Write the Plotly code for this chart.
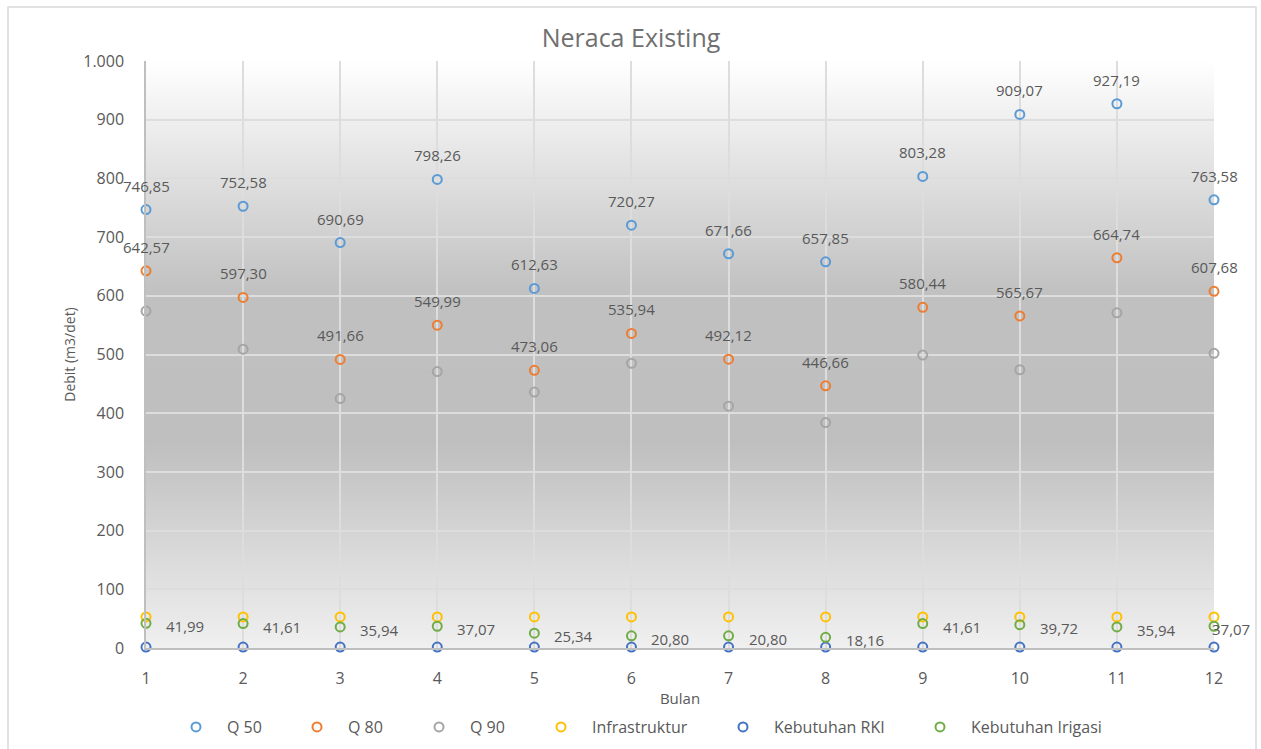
import base64
import struct
import zlib
import plotly.graph_objects as go

# ---------------- data ----------------
bulan = [1, 2, 3, 4, 5, 6, 7, 8, 9, 10, 11, 12]
q50 = [746.85, 752.58, 690.69, 798.26, 612.63, 720.27, 671.66, 657.85, 803.28, 909.07, 927.19, 763.58]
q80 = [642.57, 597.30, 491.66, 549.99, 473.06, 535.94, 492.12, 446.66, 580.44, 565.67, 664.74, 607.68]
q90 = [574, 509, 425, 471, 436, 485, 412, 384, 499, 474, 571, 502]
infrastruktur = [53, 53, 53, 53, 53, 53, 53, 53, 53, 53, 53, 53]
kebutuhan_rki = [1.5, 1.5, 1.5, 1.5, 1.5, 1.5, 1.5, 1.5, 1.5, 1.5, 1.5, 1.5]
kebutuhan_irigasi = [41.99, 41.61, 35.94, 37.07, 25.34, 20.80, 20.80, 18.16, 41.61, 39.72, 35.94, 37.07]

series_names = ["Q 50", "Q 80", "Q 90", "Infrastruktur", "Kebutuhan RKI", "Kebutuhan Irigasi"]
series_values = [q50, q80, q90, infrastruktur, kebutuhan_rki, kebutuhan_irigasi]
colors = ["#5B9BD5", "#ED7D31", "#A5A5A5", "#FFC000", "#4472C4", "#70AD47"]

# ---------------- layout geometry ----------------
W, H = 1261, 749
L, R, T, B = 146, 47, 61, 101
pw, ph = W - L - R, H - T - B

def px_x(p):
    return (p - L) / pw

def px_y(p):
    return (H - B - p) / ph

FONT = "Open Sans"
TXT = "#595959"

fig = go.Figure()
for i, (name, vals, col) in enumerate(zip(series_names, series_values, colors)):
    lg = "legend" if i == 0 else f"legend{i+1}"
    fig.add_trace(go.Scatter(
        x=bulan, y=vals, name=name, mode="markers",
        marker=dict(symbol="circle-open", size=9, color=col, line=dict(width=2, color=col)),
        cliponaxis=False, legend=lg, showlegend=True,
    ))

def fmt(v):
    return f"{v:,.2f}".replace(",", "X").replace(".", ",").replace("X", ".")

annotations = []
for vals in (q50, q80):
    for xb, v in zip(bulan, vals):
        annotations.append(dict(x=xb, y=v, text=fmt(v), showarrow=False, xref="x", yref="y",
                                yanchor="middle", xanchor="center", yshift=24,
                                font=dict(family=FONT, size=15, color=TXT)))
for j, (xb, v) in enumerate(zip(bulan, kebutuhan_irigasi)):
    last = j == len(bulan) - 1
    annotations.append(dict(x=xb, y=v, text=fmt(v), showarrow=False, xref="x", yref="y",
                            yanchor="middle", xanchor="left", xshift=-4 if last else 18, yshift=-3,
                            font=dict(family=FONT, size=15, color=TXT)))

# ---------------- gradient background (PNG built in memory) ----------------
def grad(v):
    stops = [(0, 240), (350, 191), (600, 192), (1000, 255)]
    for (a, ca), (b, cb) in zip(stops[:-1], stops[1:]):
        if a <= v <= b:
            return ca + (cb - ca) * (v - a) / (b - a)
    return 255

def make_png(rows, width=4):
    raw = b""
    for c in rows:
        raw += b"\x00" + bytes([c, c, c]) * width
    def chunk(tag, data):
        return struct.pack(">I", len(data)) + tag + data + struct.pack(">I", zlib.crc32(tag + data) & 0xFFFFFFFF)
    png = b"\x89PNG\r\n\x1a\n"
    png += chunk(b"IHDR", struct.pack(">IIBBBBB", width, len(rows), 8, 2, 0, 0, 0))
    png += chunk(b"IDAT", zlib.compress(raw, 9))
    png += chunk(b"IEND", b"")
    return "data:image/png;base64," + base64.b64encode(png).decode()

NROWS = 400
rows = [int(round(grad(1000 * (1 - (k + 0.5) / NROWS)))) for k in range(NROWS)]
bg_src = make_png(rows)

shapes = [dict(type="rect", xref="paper", yref="paper",
               x0=px_x(8), x1=px_x(1256), y0=px_y(752), y1=px_y(7),
               line=dict(color="#D9D9D9", width=1.5), fillcolor="rgba(0,0,0,0)", layer="below")]

layout = dict(
    width=W, height=H,
    margin=dict(l=L, r=R, t=T, b=B, pad=0, autoexpand=False),
    paper_bgcolor="white", plot_bgcolor="rgba(0,0,0,0)",
    separators=",.",
    showlegend=True,
    font=dict(family=FONT, color=TXT, size=14),
    title=dict(text="Neraca Existing", x=631 / W, xanchor="center", xref="container",
               y=1 - 38 / H, yanchor="middle", yref="container",
               font=dict(family=FONT, size=25, color="#707070")),
    xaxis=dict(range=[1, 12], dtick=1, tick0=1, showgrid=True, gridcolor="#DDDDDD", gridwidth=1.5,
               showline=True, linecolor="#BFBFBF", linewidth=1.5, zeroline=False, ticks="",
               ticklabelstandoff=15, tickfont=dict(family=FONT, size=16, color=TXT),
               title=dict(text="Bulan", font=dict(family=FONT, size=15, color=TXT), standoff=6)),
    yaxis=dict(range=[0, 1000], dtick=100, tickformat=",", showgrid=True, gridcolor="#DDDDDD",
               gridwidth=1.5, showline=True, linecolor="#BFBFBF", linewidth=1.5, zeroline=False,
               ticks="", ticklabelstandoff=17, tickfont=dict(family=FONT, size=16, color=TXT),
               title=dict(text="Debit (m3/det)", font=dict(family=FONT, size=14, color=TXT), standoff=4)),
    annotations=annotations,
    shapes=shapes,
    images=[dict(source=bg_src, xref="paper", yref="y", x=0, y=1000, sizex=1, sizey=1000,
                 xanchor="left", yanchor="top", sizing="stretch", layer="below", opacity=1)],
)
legend_marker_px = [196, 317, 439, 561, 743, 940]
for i, mx in enumerate(legend_marker_px):
    key = "legend" if i == 0 else f"legend{i+1}"
    layout[key] = dict(x=px_x(mx - 31), xanchor="left", y=px_y(727), yanchor="middle",
                       orientation="h", bgcolor="rgba(0,0,0,0)", itemwidth=52, visible=True,
                       font=dict(family=FONT, size=16, color=TXT))

fig.update_layout(**layout)
fig.write_html("out.html")
